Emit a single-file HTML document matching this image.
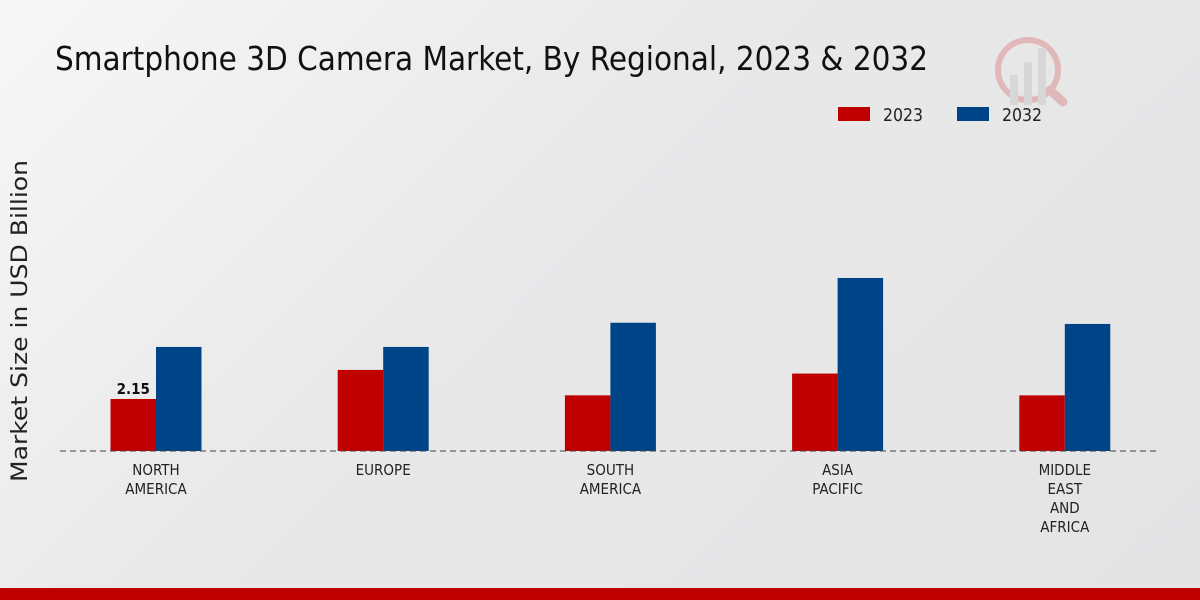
<!DOCTYPE html>
<html><head><meta charset="utf-8"><style>
body{margin:0;width:1200px;height:600px;overflow:hidden;background:linear-gradient(135deg,#f7f7f7 0%,#e9e9ea 40%,#e4e4e5 100%);font-family:"DejaVu Sans","Liberation Sans",sans-serif;}
svg{position:absolute;left:0;top:0}
.nar{font-family:"DejaVu Sans Condensed","DejaVu Sans","Liberation Sans",sans-serif}
</style></head><body>
<svg width="1200" height="600">
<text class="nar" x="55" y="70" font-size="33" textLength="873" lengthAdjust="spacingAndGlyphs" fill="#111">Smartphone 3D Camera Market, By Regional, 2023 &amp; 2032</text>
<g opacity="0.2">
<circle cx="1028" cy="70" r="30" fill="none" stroke="#c00" stroke-width="6"/>
<rect x="1010" y="75" width="8" height="30" fill="#999"/><rect x="1024" y="62" width="8" height="43" fill="#999"/><rect x="1038" y="48" width="8" height="57" fill="#999"/>
<line x1="1050" y1="90" x2="1063" y2="102" stroke="#c00" stroke-width="9" stroke-linecap="round"/>
</g>
<g>
<rect x="838" y="107" width="32" height="14" fill="#c00000"/>
<text class="nar" x="883" y="121" font-size="18" textLength="40" lengthAdjust="spacingAndGlyphs" fill="#222">2023</text>
<rect x="957" y="107" width="32" height="14" fill="#004488"/>
<text class="nar" x="1002" y="121" font-size="18" textLength="40" lengthAdjust="spacingAndGlyphs" fill="#222">2032</text>
</g>
<text transform="translate(27,321) rotate(-90)" text-anchor="middle" font-size="22" textLength="322" lengthAdjust="spacingAndGlyphs" fill="#222">Market Size in USD Billion</text>
<g id="plot"></g>
<rect x="0" y="588" width="1200" height="12" fill="#c00000"/>
</svg>
<script>
const categories=[["NORTH","AMERICA"],["EUROPE"],["SOUTH","AMERICA"],["ASIA","PACIFIC"],["MIDDLE","EAST","AND","AFRICA"]];
const values2023=[2.15,3.35,2.3,3.2,2.3];
const values2032=[4.3,4.3,5.3,7.15,5.25];
const labelValues=["2.15",null,null,null,null];
const base=451,scale=24.2,x0=156,step=227.2,bw=45.5;
const y=v=>base-v*scale, xc=i=>x0+i*step;
const g=document.getElementById('plot'),NS='http://www.w3.org/2000/svg';
function mk(t,a){const e=document.createElementNS(NS,t);for(const k in a)e.setAttribute(k,a[k]);g.appendChild(e);return e;}
categories.forEach((c,i)=>{
 let r=mk('rect',{x:xc(i)-bw,y:y(values2023[i]),width:bw,height:values2023[i]*scale,fill:'#c00000'});
 
 
 let b=mk('rect',{x:xc(i),y:y(values2032[i]),width:bw,height:values2032[i]*scale,fill:'#004488'});
 
 
 if(labelValues[i]){let t=mk('text',{x:xc(i)-bw/2,y:y(values2023[i])-5,'text-anchor':'middle','font-size':15,'font-weight':'bold',fill:'#111',class:'nar'});t.textContent=labelValues[i];
 
 }
 c.forEach((l,j)=>{let t=mk('text',{x:xc(i),y:475+j*19,'text-anchor':'middle','font-size':15,class:'nar',fill:'#222'});t.textContent=l;
 
 });
});
let ax=mk('line',{x1:60,x2:1160,y1:base,y2:base,stroke:'#444','stroke-dasharray':'6,4','stroke-width':1});


</script>
</body></html>
